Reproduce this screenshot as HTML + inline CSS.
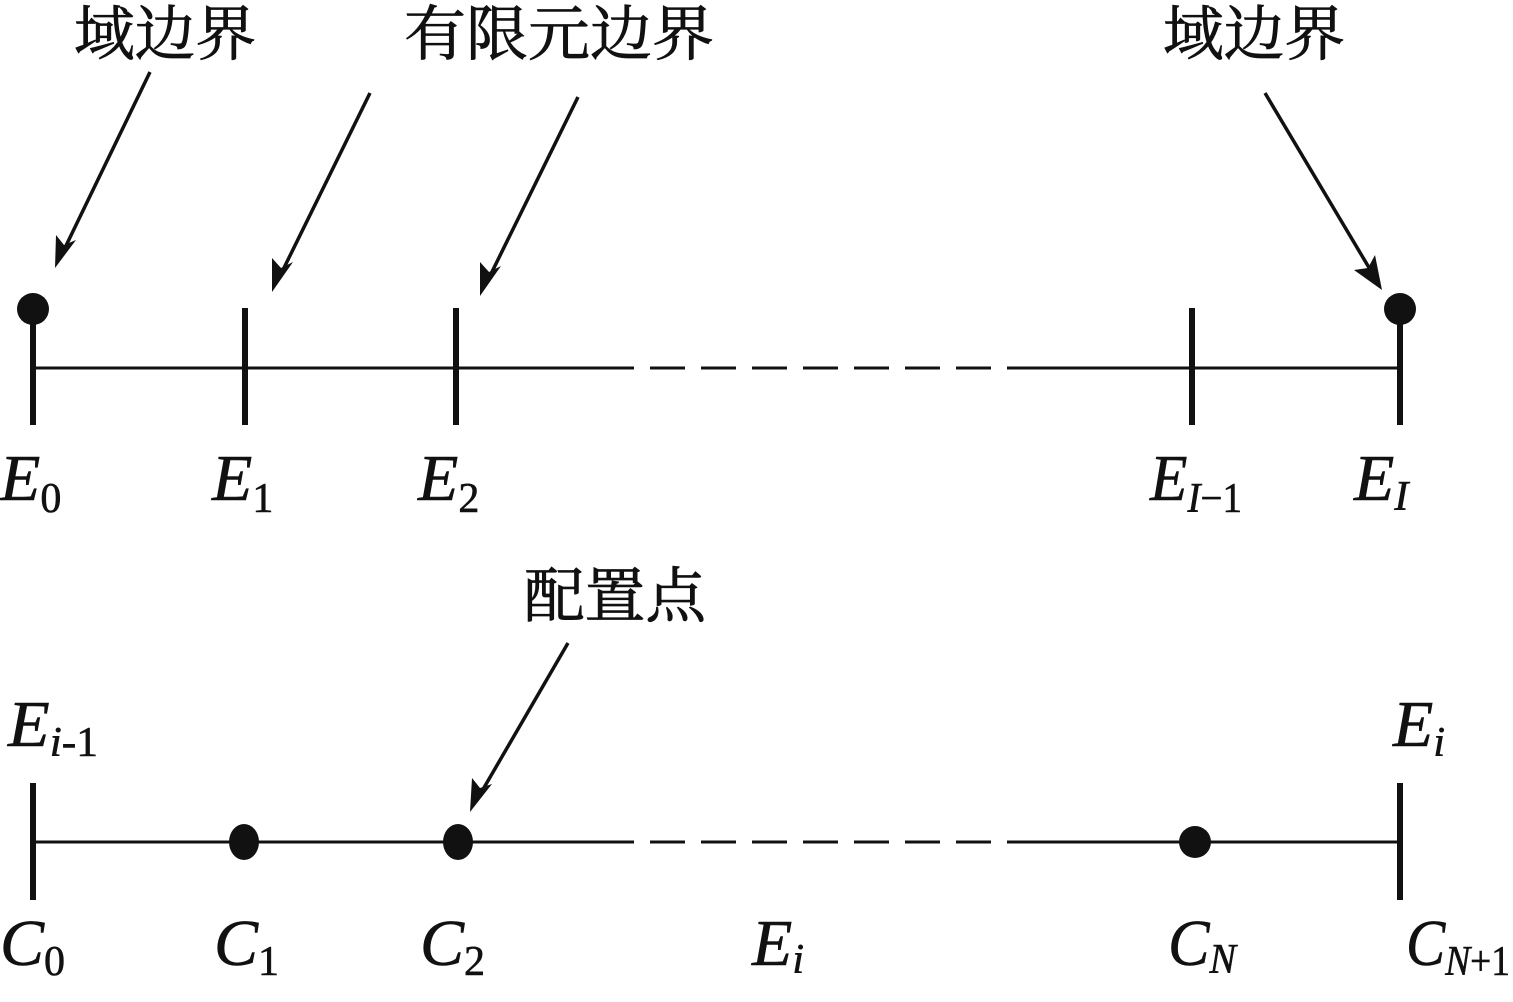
<!DOCTYPE html>
<html><head><meta charset="utf-8"><style>
html,body{margin:0;padding:0;background:#fff;}
svg{display:block;}
.cn{font-family:"Liberation Serif","Noto Serif CJK SC",serif;font-size:60px;fill:#111;stroke:#111;stroke-width:0.8;}
.m{font-family:"Liberation Serif",serif;font-style:italic;font-size:66px;fill:#111;stroke:#111;stroke-width:0.6;}
.s{font-size:42px;}
.u{font-style:normal;}
</style></head><body>
<svg width="1513" height="1002" viewBox="0 0 1513 1002" xmlns="http://www.w3.org/2000/svg">
<g stroke="#111" fill="none">
<line x1="33" y1="368" x2="634" y2="368" stroke-width="3"/>
<line x1="650" y1="368" x2="1008" y2="368" stroke-width="3" stroke-dasharray="35,16"/>
<line x1="1008" y1="368" x2="1400" y2="368" stroke-width="3"/>
<line x1="33" y1="310" x2="33" y2="425" stroke-width="6"/>
<line x1="245" y1="308" x2="245" y2="425" stroke-width="6"/>
<line x1="456" y1="308" x2="456" y2="425" stroke-width="6"/>
<line x1="1192" y1="308" x2="1192" y2="425" stroke-width="6"/>
<line x1="1400" y1="310" x2="1400" y2="425" stroke-width="6"/>
<line x1="33" y1="842" x2="634" y2="842" stroke-width="3"/>
<line x1="650" y1="842" x2="1008" y2="842" stroke-width="3" stroke-dasharray="35,16"/>
<line x1="1008" y1="842" x2="1400" y2="842" stroke-width="3"/>
<line x1="33" y1="783" x2="33" y2="900" stroke-width="6"/>
<line x1="1400" y1="783" x2="1400" y2="900" stroke-width="6"/>
<line x1="150" y1="72" x2="62" y2="254" stroke-width="3.5"/>
<line x1="370" y1="93" x2="279" y2="278" stroke-width="3.5"/>
<line x1="578" y1="97" x2="487" y2="282" stroke-width="3.5"/>
<line x1="1265" y1="93" x2="1374" y2="276" stroke-width="3.5"/>
<line x1="568" y1="643" x2="478" y2="798" stroke-width="3.5"/>
</g>
<g fill="#111">
<ellipse cx="33" cy="309" rx="16" ry="16"/>
<ellipse cx="1400" cy="309" rx="16" ry="16"/>
<ellipse cx="244" cy="842" rx="15" ry="18"/>
<ellipse cx="458" cy="842" rx="15" ry="18"/>
<ellipse cx="1195" cy="842" rx="16" ry="16"/>
<polygon points="55,268 56,235 64,245 76,240"/>
<polygon points="272,292 272,258 281,268 293,262"/>
<polygon points="480,296 480,262 489,272 501,266"/>
<polygon points="1382,290 1354,270 1368,268 1375,255"/>
<polygon points="470,812 472,778 480,788 492,784"/>
</g>
<g class="cn">
<text x="74" y="55" textLength="182" lengthAdjust="spacingAndGlyphs">域边界</text>
<text x="404" y="55" textLength="310" lengthAdjust="spacingAndGlyphs">有限元边界</text>
<text x="1163" y="55" textLength="182" lengthAdjust="spacingAndGlyphs">域边界</text>
<text x="524" y="617" textLength="182" lengthAdjust="spacingAndGlyphs">配置点</text>
</g>
<g class="m">
<text x="0" y="500">E<tspan class="s u" dy="12">0</tspan></text>
<text x="212" y="500">E<tspan class="s u" dy="12">1</tspan></text>
<text x="418" y="500">E<tspan class="s u" dy="12">2</tspan></text>
<text x="1150" y="500" textLength="92" lengthAdjust="spacingAndGlyphs">E<tspan class="s" dy="12">I</tspan><tspan class="s u">−1</tspan></text>
<text x="1354" y="500">E<tspan class="s" dy="10">I</tspan></text>
<text x="8" y="746" textLength="90" lengthAdjust="spacingAndGlyphs">E<tspan class="s" dy="10">i</tspan><tspan class="s u">-1</tspan></text>
<text x="1393" y="746">E<tspan class="s" dy="10">i</tspan></text>
<text x="0" y="965">C<tspan class="s u" dy="10">0</tspan></text>
<text x="214" y="965">C<tspan class="s u" dy="10">1</tspan></text>
<text x="420" y="965">C<tspan class="s u" dy="10">2</tspan></text>
<text x="752" y="965">E<tspan class="s" dy="8">i</tspan></text>
<text x="1168" y="965" textLength="68" lengthAdjust="spacingAndGlyphs">C<tspan class="s" dy="8">N</tspan></text>
<text x="1406" y="965" textLength="104" lengthAdjust="spacingAndGlyphs">C<tspan class="s" dy="10">N</tspan><tspan class="s u">+1</tspan></text>
</g>
</svg>
</body></html>
